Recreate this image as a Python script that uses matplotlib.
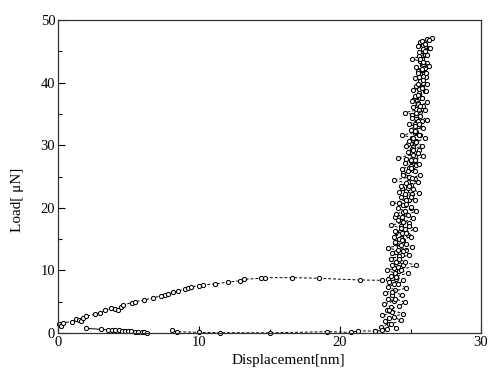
import matplotlib
matplotlib.use("Agg")
import matplotlib.pyplot as plt
from matplotlib.ticker import MultipleLocator

plt.rcParams['font.family'] = ['Liberation Serif', 'DejaVu Serif']

# loading branch before contact
load_disp = [0.05, 0.19, 0.38, 0.97, 1.28, 1.49, 1.63, 1.80, 1.99, 2.62, 2.98, 3.33, 3.76, 4.04,
             4.28, 4.45, 4.63, 5.22, 5.46, 6.12, 6.76, 7.30, 7.59, 7.83, 8.18, 8.49, 9.03, 9.24,
             9.41, 10.0, 10.26, 11.13, 12.05, 12.93, 13.22, 14.4, 14.7, 16.6, 18.5, 21.4, 23.0,
             23.4, 23.7]
load_force = [1.4, 1.1, 1.65, 1.81, 2.24, 2.08, 1.97, 2.45, 2.72, 2.98, 3.19, 3.62, 3.94, 3.78,
              3.67, 4.10, 4.47, 4.84, 5.0, 5.27, 5.64, 5.91, 6.07, 6.18, 6.50, 6.71, 7.03, 7.24,
              7.40, 7.51, 7.67, 7.85, 8.12, 8.36, 8.58, 8.74, 8.84, 8.84, 8.74, 8.47, 8.42,
              8.63, 8.84]

# contact region, going up
up_disp = [23.9, 24.2, 23.8, 24.5, 24.1, 23.6, 24.4, 24.0, 24.7, 24.2, 23.9, 24.5, 24.3, 24.8,
           24.0, 24.6, 24.3, 24.9, 24.4, 23.9, 24.7, 24.5, 25.0, 24.6, 24.2, 24.9, 24.6, 25.1,
           24.7, 24.4, 25.0, 24.8, 25.3, 24.9, 24.5, 25.2, 24.9, 25.4, 25.0, 24.7, 25.3, 25.1,
           25.6, 25.2, 24.8, 25.4, 25.1, 25.7, 25.3, 25.0, 25.5, 25.3, 25.8, 25.4, 25.1, 25.7,
           25.4, 25.9, 25.5, 25.2, 25.8, 25.6, 26.0, 25.6, 25.4, 25.9, 25.7, 26.1, 25.7, 25.5,
           26.0, 25.8, 26.2, 25.8, 25.6, 26.1, 25.9, 26.3, 25.9, 25.7, 26.2, 26.5]
up_force = [9.3, 9.9, 10.4, 10.9, 11.5, 11.9, 12.4, 12.9, 13.3, 13.8, 14.3, 14.8, 15.2, 15.7,
            16.2, 16.6, 17.1, 17.6, 18.0, 18.5, 19.0, 19.4, 19.9, 20.4, 20.8, 21.3, 21.8, 22.2,
            22.7, 23.2, 23.6, 24.1, 24.6, 25.0, 25.5, 26.0, 26.4, 26.9, 27.4, 27.8, 28.3, 28.8,
            29.2, 29.7, 30.2, 30.6, 31.1, 31.6, 32.0, 32.5, 33.0, 33.4, 33.9, 34.4, 34.8, 35.3,
            35.8, 36.2, 36.7, 37.2, 37.6, 38.1, 38.6, 39.0, 39.5, 40.0, 40.4, 40.9, 41.4, 41.8,
            42.3, 42.8, 43.2, 43.7, 44.2, 44.6, 45.1, 45.6, 46.0, 46.5, 46.9, 47.1]

# contact region, coming down
down_disp = [25.8, 26.0, 25.5, 25.9, 25.6, 26.0, 25.1, 25.7, 25.9, 25.4, 25.8, 25.5, 25.9, 25.3,
             25.7, 25.5, 25.8, 25.2, 25.6, 25.3, 25.7, 25.1, 25.5, 25.2, 25.6, 24.6, 25.4, 25.1,
             25.5, 24.9, 25.3, 25.0, 25.4, 24.4, 25.2, 24.9, 25.3, 24.7, 25.1, 24.8, 25.2, 24.1,
             25.0, 24.6, 25.0, 24.4, 24.8, 24.5, 24.9, 23.8, 24.7, 24.3, 24.8, 24.2, 24.6, 24.3,
             24.7, 23.7, 24.5, 24.1, 24.6, 24.0, 24.4, 24.1, 24.5, 23.6, 24.3, 23.9, 24.4, 23.8,
             24.2, 23.9, 24.3, 23.4, 24.1, 23.7, 24.2, 23.6, 24.0, 23.7, 24.1, 23.3, 23.9, 23.6,
             24.0, 23.5, 23.8, 23.4, 23.9, 23.2, 23.7, 23.4, 23.8, 23.1, 23.6, 23.3, 23.7, 23.0,
             23.5, 23.2, 23.5, 22.9, 23.3, 23.0, 22.5]
down_force = [46.7, 46.2, 45.8, 45.3, 44.9, 44.4, 43.8, 43.4, 42.9, 42.5, 42.0, 41.6, 41.1, 40.7,
              40.2, 39.8, 39.3, 38.8, 38.4, 37.9, 37.5, 37.0, 36.6, 36.1, 35.7, 35.2, 34.8, 34.3,
              33.9, 33.4, 33.0, 32.5, 32.1, 31.6, 31.2, 30.7, 30.3, 29.8, 29.4, 28.9, 28.5, 28.0,
              27.6, 27.1, 26.7, 26.2, 25.8, 25.3, 24.9, 24.4, 24.0, 23.5, 23.1, 22.6, 22.2, 21.7,
              21.3, 20.8, 20.4, 19.9, 19.5, 19.0, 18.6, 18.1, 17.7, 17.2, 16.8, 16.3, 15.9, 15.4,
              15.0, 14.5, 14.1, 13.6, 13.2, 12.7, 12.3, 11.8, 11.4, 10.9, 10.5, 10.0, 9.6, 9.1,
              8.7, 8.2, 7.8, 7.3, 6.9, 6.4, 6.0, 5.5, 5.1, 4.6, 4.2, 3.7, 3.3, 2.8,
              2.4, 1.9, 1.5, 1.0, 0.6, 0.4, 0.3]

# second pass through the contact region (right-hand side of the band)
pass2_disp = [24.0, 23.6, 24.3, 23.8, 24.5, 23.5, 24.2, 24.6, 23.9, 24.4,
              23.7, 24.7, 24.1, 24.5, 24.0, 24.8, 24.3, 25.4, 24.6, 24.2,
              24.9, 24.5, 25.1, 24.7, 24.4, 25.0, 24.7, 25.3, 24.9, 24.5,
              25.2, 24.8, 25.4, 25.0, 24.7, 25.3, 25.0, 25.6, 25.2, 24.9,
              25.5, 25.1, 25.7, 25.3, 25.0, 25.6, 25.3, 25.9, 25.5, 25.2,
              25.8, 25.4, 26.0, 25.6, 25.3, 25.9, 25.6, 26.2, 25.7, 25.4,
              26.0, 25.7, 26.2, 25.8, 25.5, 26.1, 25.8, 26.2, 25.9, 25.6,
              26.1, 25.8, 26.3, 25.9, 25.7, 26.2, 26.0, 26.4, 26.0, 26.3]
pass2_force = [0.8, 1.4, 2.0, 2.6, 3.1, 3.7, 4.3, 4.9, 5.5, 6.1,
               6.6, 7.2, 7.8, 8.4, 9.0, 9.6, 10.1, 10.8, 11.3, 11.9,
               12.5, 13.1, 13.7, 14.2, 14.8, 15.4, 16.0, 16.6, 17.1, 17.7,
               18.3, 18.9, 19.5, 20.1, 20.6, 21.2, 21.8, 22.4, 23.0, 23.5,
               24.1, 24.7, 25.3, 25.9, 26.4, 27.0, 27.6, 28.2, 28.8, 29.3,
               29.9, 30.5, 31.1, 31.7, 32.2, 32.8, 33.4, 34.0, 34.6, 35.1,
               35.7, 36.3, 36.9, 37.5, 38.0, 38.6, 39.2, 39.8, 40.4, 40.9,
               41.5, 42.1, 42.7, 43.3, 43.8, 44.4, 45.0, 45.6, 46.2, 46.8]

# return along zero load
ret_disp = [22.5, 21.26, 20.8, 19.05, 15.0, 11.5, 10.0, 8.42, 8.11]
ret_force = [0.32, 0.32, 0.1, 0.21, 0.02, 0.05, 0.1, 0.21, 0.48]

# short segment near origin
app_disp = [1.96, 3.03, 3.57, 3.80, 4.04, 4.30, 4.52, 4.75, 4.99, 5.20, 5.46, 5.70, 5.94, 6.10, 6.29]
app_force = [0.75, 0.59, 0.48, 0.45, 0.42, 0.40, 0.37, 0.32, 0.27, 0.24, 0.21, 0.16, 0.11, 0.08, 0.02]

fig = plt.figure(figsize=(4.88, 3.68), dpi=100)
ax = fig.add_axes([58 / 488, 35 / 368, 423 / 488, 313 / 368])

style = dict(color='black', marker='o', markersize=3.0, markerfacecolor='white',
             markeredgewidth=0.75, linewidth=0.7, clip_on=False)
dash = (0, (3, 2))
ax.plot(load_disp + up_disp + down_disp + ret_disp,
        load_force + up_force + down_force + ret_force, linestyle=dash, **style)
ax.plot(pass2_disp, pass2_force, linestyle=dash, **style)
ax.plot(app_disp, app_force, linestyle='-', **style)

ax.set_xlim(0, 30)
ax.set_ylim(0, 50)
ax.xaxis.set_major_locator(MultipleLocator(10))
ax.xaxis.set_minor_locator(MultipleLocator(5))
ax.yaxis.set_major_locator(MultipleLocator(10))
ax.yaxis.set_minor_locator(MultipleLocator(5))
ax.tick_params(which='both', direction='in', top=False, right=False, labelsize=10.5, pad=2)
ax.tick_params(which='major', length=5, width=0.8)
ax.tick_params(which='minor', length=3, width=0.8)
for s in ax.spines.values():
    s.set_linewidth(0.9)
    s.set_color('#333333')

ax.set_xlabel('Displacement[nm]', fontsize=11)
ax.set_ylabel('Load[ μN]', fontsize=11)
ax.xaxis.set_label_coords(0.545, -0.068)
ax.yaxis.set_label_coords(-0.08, 0.425)

fig.savefig('out.png', dpi=100)
